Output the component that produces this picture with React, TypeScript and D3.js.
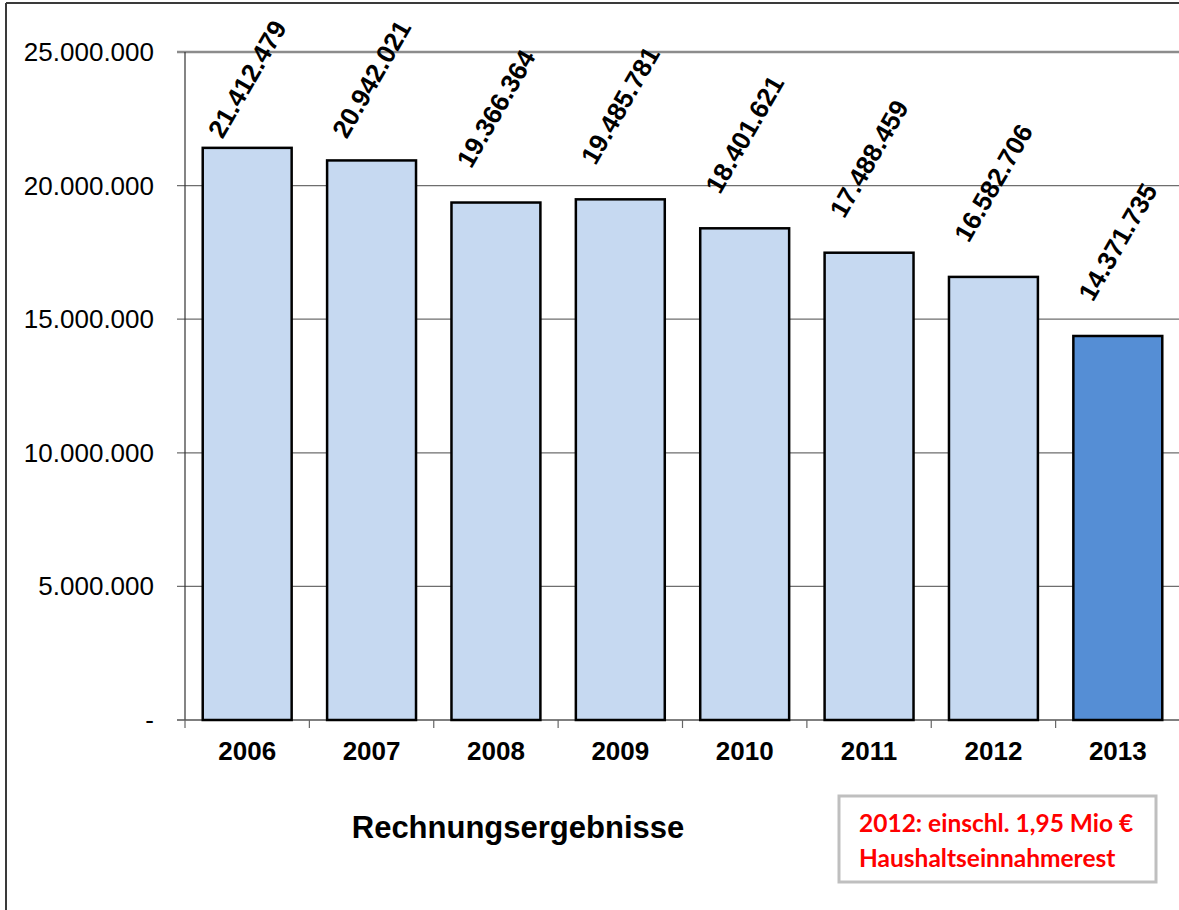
import React from "react";
import * as d3 from "d3";

const years = ["2006", "2007", "2008", "2009", "2010", "2011", "2012", "2013"];
const values = [21412479, 20942021, 19366364, 19485781, 18401621, 17488459, 16582706, 14371735];
const highlightYear = "2013";
const yTicks = [0, 5000000, 10000000, 15000000, 20000000, 25000000];
const axisTitle = "Rechnungsergebnisse";
const noteLines = ["2012: einschl. 1,95 Mio €", "Haushaltseinnahmerest"];

const W = 1179;
const H = 910;
const left = 185;
const right = 1180;
const top = 52;
const bottom = 720;

const de = d3.formatLocale({ decimal: ",", thousands: ".", grouping: [3], currency: ["", " €"] });
const fmt = de.format(",.0f");

export default function App() {
  const x = d3.scaleBand<string>().domain(years).range([left, right]).paddingInner(0.285).paddingOuter(0.1425);
  const y = d3.scaleLinear().domain([0, 25000000]).range([bottom, top]);
  const step = x.step();
  const font = "'Liberation Sans', Arial, sans-serif";

  return (
    <div style={{ position: "absolute", left: 0, top: 0, width: W, height: H, background: "#fff" }}>
      <svg width={W} height={H} style={{ display: "block" }}>
        <rect x={0} y={0} width={W} height={H} fill="#fff" />
        {/* outer frame */}
        <line x1={6} y1={3} x2={W} y2={3} stroke="#3a3a3a" strokeWidth={2} />
        <line x1={6} y1={3} x2={6} y2={H} stroke="#3a3a3a" strokeWidth={2} />

        {/* gridlines */}
        {yTicks.slice(1).map((t) => (
          <line
            key={"g" + t}
            x1={left - 8}
            x2={W}
            y1={y(t)}
            y2={y(t)}
            stroke={t === 25000000 ? "#8c8c8c" : "#6e6e6e"}
            strokeWidth={t === 25000000 ? 2.5 : 1.2}
          />
        ))}
        {/* axes */}
        <line x1={left} x2={left} y1={top} y2={bottom} stroke="#333" strokeWidth={1.2} />
        <line x1={left - 8} x2={W} y1={bottom} y2={bottom} stroke="#555" strokeWidth={1.4} />
        {/* x ticks */}
        {years.map((yr, i) => (
          <line
            key={"xt" + yr}
            x1={left + i * step}
            x2={left + i * step}
            y1={bottom}
            y2={bottom + 8}
            stroke="#666"
            strokeWidth={1.2}
          />
        ))}
        {/* y tick labels */}
        {yTicks.map((t) => (
          <text
            key={"yl" + t}
            x={154}
            y={y(t)}
            textAnchor="end"
            dominantBaseline="central"
            fontFamily={font}
            fontSize={26}
            fill="#000"
          >
            {t === 0 ? "-" : fmt(t)}
          </text>
        ))}

        {/* bars */}
        {years.map((yr, i) => (
          <rect
            key={"b" + yr}
            x={x(yr)}
            y={y(values[i])}
            width={x.bandwidth()}
            height={bottom - y(values[i])}
            fill={yr === highlightYear ? "#558ed5" : "#c6d9f1"}
            stroke="#000"
            strokeWidth={2.5}
          />
        ))}

        {/* value labels */}
        {years.map((yr, i) => {
          const cx = (x(yr) as number) + x.bandwidth() / 2;
          const half = 61;
          const cy = Math.max(y(values[i]) - 33 - half, 18 + half);
          return (
            <text
              key={"v" + yr}
              transform={`translate(${cx},${cy}) rotate(-60)`}
              textAnchor="middle"
              dominantBaseline="central"
              fontFamily={font}
              fontWeight="bold"
              fontSize={26}
              fill="#000"
            >
              {fmt(values[i])}
            </text>
          );
        })}

        {/* category labels */}
        {years.map((yr) => (
          <text
            key={"c" + yr}
            x={(x(yr) as number) + x.bandwidth() / 2}
            y={760}
            textAnchor="middle"
            fontFamily={font}
            fontWeight="bold"
            fontSize={26}
            fill="#000"
          >
            {yr}
          </text>
        ))}

        {/* axis title */}
        <text x={518} y={838} textAnchor="middle" fontFamily={font} fontWeight="bold" fontSize={31} fill="#000">
          {axisTitle}
        </text>

        {/* note box */}
        <rect x={839} y={796} width={317} height={86} fill="#fff" stroke="#bfbfbf" strokeWidth={3} />
        {noteLines.map((l, i) => (
          <text
            key={"n" + i}
            x={859}
            y={832 + i * 35}
            fontFamily="Lato, 'Open Sans', sans-serif"
            fontWeight="bold"
            fontSize={24.5}
            fill="#ff0000"
          >
            {l}
          </text>
        ))}
      </svg>
    </div>
  );
}
